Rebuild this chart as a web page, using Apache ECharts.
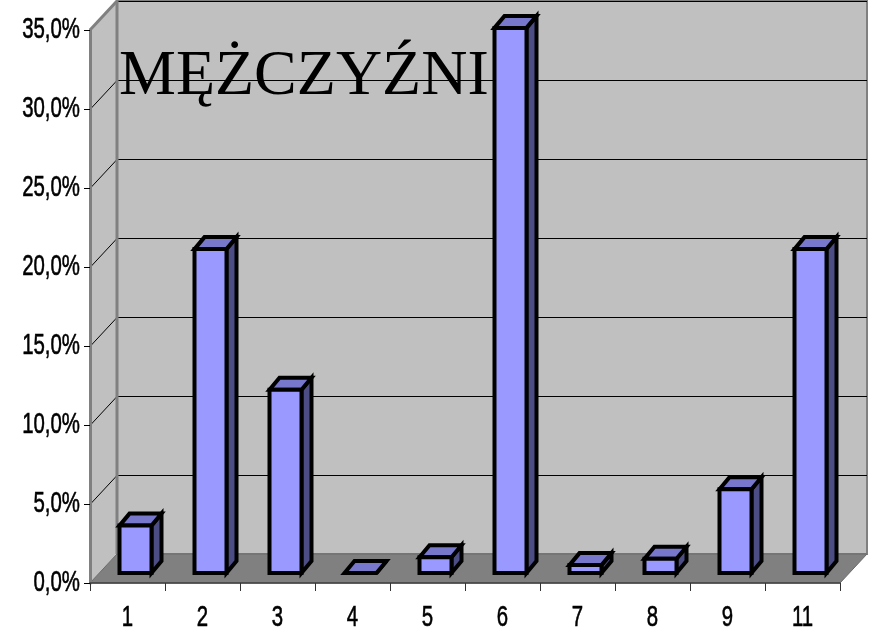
<!DOCTYPE html>
<html>
<head>
<meta charset="utf-8">
<script src="https://cdn.jsdelivr.net/npm/echarts@6/dist/echarts.min.js"></script>
<style>
  html, body { margin: 0; padding: 0; background: #fff; }
  #chart { width: 869px; height: 631px; }
</style>
</head>
<body>
<div id="chart"></div>
<script>
// dane (w procentach)
var categories = ['1', '2', '3', '4', '5', '6', '7', '8', '9', '11'];
var values = [3.0, 20.5, 11.6, 0, 1.0, 34.5, 0.5, 0.9, 5.3, 20.5];
var yTicks = [0, 5, 10, 15, 20, 25, 30, 35];

// przesuniecie "glebi" sceny 3D
var DX = 27, DY = -29;
// przesuniecie i glebia slupkow
var BX = 8, BY = -10, BDX = 10, BDY = -12, BW = 32;

// waski krój jak Arial Narrow - scisniety Liberation Sans
var labelFont = '"Liberation Sans", Arial, sans-serif';
var labelSize = 30, labelScale = 0.68;

var chart = echarts.init(document.getElementById('chart'));

function fmtPct(v) {
  return v.toFixed(1).replace('.', ',') + '%';
}

function renderWalls(params, api) {
  var cs = params.coordSys;
  var x0 = cs.x, x1 = cs.x + cs.width;
  var yMin = api.coord([0, yTicks[0]])[1];
  var yMax = api.coord([0, yTicks[yTicks.length - 1]])[1];
  var children = [];
  // tylna sciana
  children.push({ type: 'polygon', shape: { points: [[x0 + DX, yMax + DY], [x1 + DX, yMax + DY], [x1 + DX, yMin + DY], [x0 + DX, yMin + DY]] },
    style: { fill: '#C0C0C0', stroke: '#808080', lineWidth: 2 } });
  // boczna sciana
  children.push({ type: 'polygon', shape: { points: [[x0, yMax], [x0 + DX, yMax + DY], [x0 + DX, yMin + DY], [x0, yMin]] },
    style: { fill: '#C0C0C0' } });
  // podloga
  children.push({ type: 'polygon', shape: { points: [[x0, yMin], [x1, yMin], [x1 + DX, yMin + DY], [x0 + DX, yMin + DY]] },
    style: { fill: '#808080', stroke: '#6a6a6a', lineWidth: 1 } });
  // linie siatki
  yTicks.forEach(function (t) {
    if (t === 0) return;
    var y = Math.round(api.coord([0, t])[1]) + 0.5;
    children.push({ type: 'line', shape: { x1: x0 + DX, y1: y + DY, x2: x1 + DX, y2: y + DY }, style: { stroke: '#000', lineWidth: 1 } });
    children.push({ type: 'line', shape: { x1: x0, y1: y, x2: x0 + DX, y2: y + DY }, style: { stroke: '#000', lineWidth: 1 } });
  });
  // krawedzie
  children.push({ type: 'line', shape: { x1: x0 + DX, y1: yMax + DY, x2: x0 + DX, y2: yMin + DY }, style: { stroke: '#808080', lineWidth: 3 } });
  children.push({ type: 'line', shape: { x1: x0, y1: yMax, x2: x0 + DX, y2: yMax + DY }, style: { stroke: '#808080', lineWidth: 3 } });
  return { type: 'group', children: children };
}

function renderBar(params, api) {
  var idx = api.value(0);
  var base = api.coord([idx, 0]);
  var top = api.coord([idx, api.value(1)]);
  var xL = base[0] + BX - BW / 2, xR = base[0] + BX + BW / 2;
  var yB = base[1] + BY, yT = top[1] + BY;
  var st = { stroke: '#000', lineWidth: 4, lineJoin: 'miter' };
  return {
    type: 'group',
    children: [
      { type: 'polygon', shape: { points: [[xR, yT], [xR + BDX, yT + BDY], [xR + BDX, yB + BDY], [xR, yB]] },
        style: Object.assign({ fill: '#4D4D85' }, st) },
      { type: 'polygon', shape: { points: [[xL, yT], [xL + BDX, yT + BDY], [xR + BDX, yT + BDY], [xR, yT]] },
        style: Object.assign({ fill: '#7777CC' }, st) },
      { type: 'rect', shape: { x: xL, y: yT, width: BW, height: yB - yT },
        style: Object.assign({ fill: '#9999FF' }, st) }
    ]
  };
}

// podpisy osi Y (scisniety tekst)
function renderYLabel(params, api) {
  var p = api.coord([0, api.value(1)]);
  return {
    type: 'text',
    x: params.coordSys.x - 10,
    y: p[1],
    scaleX: labelScale,
    style: { text: fmtPct(api.value(1)), fill: '#000', fontSize: labelSize, fontFamily: labelFont, align: 'right', verticalAlign: 'middle',
      stroke: '#000', lineWidth: 0.6 }
  };
}

// podpisy osi X
function renderXLabel(params, api) {
  var p = api.coord([api.value(0), 0]);
  return {
    type: 'text',
    x: p[0],
    y: p[1] + 35,
    scaleX: labelScale,
    style: { text: categories[api.value(0)], fill: '#000', fontSize: labelSize, fontFamily: labelFont, align: 'center', verticalAlign: 'middle',
      stroke: '#000', lineWidth: 0.6 }
  };
}

chart.setOption({
  animation: false,
  backgroundColor: '#fff',
  title: {
    text: 'MĘŻCZYŹNI',
    left: 114,
    top: 40,
    textStyle: { fontFamily: '"Liberation Serif", "Times New Roman", serif', fontSize: 64, fontWeight: 'normal', color: '#000' }
  },
  grid: { left: 90, right: 29, top: 30, bottom: 48, containLabel: false },
  xAxis: {
    type: 'category',
    data: categories,
    axisLine: { lineStyle: { color: '#404040', width: 1.5 } },
    axisTick: { show: true, length: 8, interval: 0, lineStyle: { color: '#333' } },
    axisLabel: { show: false },
    splitLine: { show: false }
  },
  yAxis: {
    type: 'value',
    min: 0,
    max: 35,
    interval: 5,
    axisLine: { show: true, lineStyle: { color: '#808080', width: 3 } },
    axisTick: { show: true, length: 6, lineStyle: { color: '#000' } },
    axisLabel: { show: false },
    splitLine: { show: false }
  },
  series: [
    { type: 'custom', z: -1, silent: true, renderItem: renderWalls, data: [[0, 0]] },
    {
      type: 'custom',
      z: 3,
      renderItem: renderBar,
      encode: { x: 0, y: 1 },
      data: values.map(function (v, i) { return [i, v]; })
    },
    {
      type: 'custom', silent: true, clip: false, renderItem: renderYLabel,
      encode: { x: 0, y: 1 },
      data: yTicks.map(function (t) { return [0, t]; })
    },
    {
      type: 'custom', silent: true, clip: false, renderItem: renderXLabel,
      encode: { x: 0, y: 1 },
      data: categories.map(function (c, i) { return [i, 0]; })
    }
  ]
});
</script>
</body>
</html>
